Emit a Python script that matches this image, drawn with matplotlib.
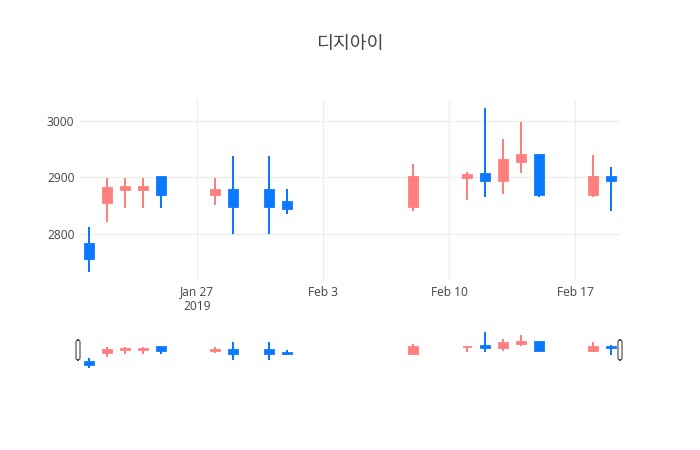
import matplotlib.pyplot as plt
import matplotlib.dates as mdates
from matplotlib.patches import FancyBboxPatch
import numpy as np

# daily prices
dates = ['2019-01-21', '2019-01-22', '2019-01-23', '2019-01-24', '2019-01-25',
         '2019-01-28', '2019-01-29', '2019-01-31', '2019-02-01', '2019-02-08',
         '2019-02-11', '2019-02-12', '2019-02-13', '2019-02-14', '2019-02-15',
         '2019-02-18', '2019-02-19']
opens = [2782, 2854, 2878, 2878, 2900, 2868, 2877, 2877, 2857, 2848,
         2898, 2906, 2893, 2928, 2940, 2868, 2900]
highs = [2811, 2899, 2899, 2899, 2900, 2899, 2938, 2938, 2880, 2923,
         2909, 3023, 2968, 2998, 2940, 2939, 2918]
lows = [2732, 2820, 2845, 2845, 2845, 2850, 2800, 2800, 2835, 2840,
        2860, 2865, 2870, 2908, 2865, 2865, 2841]
closes = [2755, 2881, 2882, 2882, 2868, 2877, 2848, 2848, 2844, 2900,
          2905, 2893, 2930, 2940, 2868, 2900, 2893]

tick_dates = ['2019-01-27', '2019-02-03', '2019-02-10', '2019-02-17']
tick_labels = ['Jan 27\n2019', 'Feb 3', 'Feb 10', 'Feb 17']
y_ticks = [2800, 2900, 3000]
title = '디지아이'

up_color = '#FF7F7F'
down_color = '#0A78FF'

x = mdates.date2num(np.array(dates, dtype='datetime64[D]'))
o = np.array(opens, dtype=float)
h = np.array(highs, dtype=float)
l = np.array(lows, dtype=float)
c = np.array(closes, dtype=float)
colors = [up_color if cc >= oo else down_color for oo, cc in zip(o, c)]

lo, hi = l.min(), h.max()
pad = (hi - lo) * 0.05
ylim = (lo - pad, hi + pad)
xlim = (x[0] - 0.5, x[-1] + 0.5)


def draw_candles(ax):
    ax.vlines(x, l, h, colors=colors, linewidth=1.44, zorder=2)
    bottom = np.minimum(o, c)
    height = np.maximum(np.abs(c - o), 0.3)
    ax.bar(x, height, bottom=bottom, width=0.5, color=colors,
           edgecolor=colors, linewidth=1.3, zorder=3)
    ax.set_xlim(*xlim)
    ax.set_ylim(*ylim)


fig = plt.figure(figsize=(7, 4.5), dpi=100)

ax = fig.add_axes([80 / 700, 170 / 450, 540 / 700, 180 / 450])
draw_candles(ax)
for s in ax.spines.values():
    s.set_visible(False)
ax.set_yticks(y_ticks)
ax.set_xticks(mdates.date2num(np.array(tick_dates, dtype='datetime64[D]')))
ax.set_xticklabels(tick_labels)
ax.grid(True, color='#eeeeee', linewidth=1)
ax.set_axisbelow(True)
ax.tick_params(length=0, labelsize=8.64, labelcolor='#444444', pad=4)
for lab in ax.get_xticklabels() + ax.get_yticklabels():
    lab.set_family('Open Sans')
for lab in ax.get_xticklabels():
    lab.set_linespacing(1.1)

# range slider
sl = fig.add_axes([80 / 700, 80 / 450, 540 / 700, 40 / 450])
draw_candles(sl)
sl.axis('off')
for px in (76, 618):
    fig.patches.append(FancyBboxPatch((px / 700, 90 / 450), 4 / 700, 20 / 450,
                                      boxstyle='round,pad=0,rounding_size=0.004',
                                      transform=fig.transFigure, facecolor='white',
                                      edgecolor='#444444', linewidth=0.8))

fig.text(0.5, 1 - 44 / 450, title, ha='center', va='center', fontsize=13.2,
         color='#444444', family=['Noto Sans CJK KR', 'DejaVu Sans'])

fig.savefig('out.png', dpi=100)
